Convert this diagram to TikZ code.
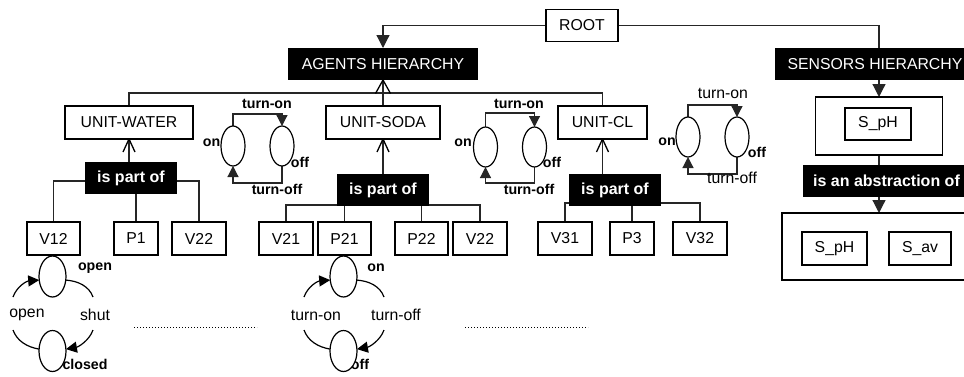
\documentclass[tikz,border=0pt]{standalone}
\usepackage{fontspec}
\setmainfont{Liberation Sans}
\usetikzlibrary{arrows.meta,shapes.geometric}
\pgfdeclarelayer{bg}
\pgfsetlayers{bg,main}
\begin{document}
\begin{tikzpicture}[x=1pt,y=-1pt,
  every node/.style={inner sep=0pt, outer sep=0pt},
  lbl/.style={font=\fontsize{15.8}{18}\selectfont},
  blbl/.style={font=\fontsize{14.2}{16}\selectfont\bfseries},
  box/.style={draw, line width=1.2pt, fill=white, minimum height=33pt, font=\fontsize{15.8}{18}\selectfont},
  blk/.style={fill=black, text=white, minimum height=32pt, font=\fontsize{16}{18}\selectfont\bfseries},
  blkr/.style={fill=black, text=white, minimum height=32pt, font=\fontsize{15.8}{18}\selectfont},
  st/.style={ellipse, draw, line width=1.2pt, fill=white, minimum width=24pt, minimum height=40pt},
  cst/.style={ellipse, draw, line width=1.2pt, fill=white, minimum width=27pt, minimum height=41pt},
  conn/.style={line width=1.2pt, draw=black!85},
  vee/.style={line width=1.3pt, draw=black, line join=miter},
  tri/.style={-{Triangle[length=13pt,width=13pt]}},
  stri/.style={-{Triangle[length=11pt,width=11pt]}},
]
\clip (0,0) rectangle (964,376);

% ---------- upper hierarchy ----------
\node[box, minimum width=72pt, minimum height=32pt] (root) at (582,25.5) {ROOT};
\node[blkr, minimum width=190pt] (agents) at (383,64) {AGENTS HIERARCHY};
\node[blkr, minimum width=200pt] (sensors) at (875,64) {SENSORS HIERARCHY};

\node[box, minimum width=128pt] (uw) at (129,122.5) {UNIT-WATER};
\node[box, minimum width=114pt] (us) at (383,122.5) {UNIT-SODA};
\node[box, minimum width=89pt] (uc) at (602.5,122.5) {UNIT-CL};

\node[blk, minimum width=92pt] (pw) at (131,178) {is part of};
\node[blk, minimum width=92pt] (ps) at (383,190) {is part of};
\node[blk, minimum width=92pt] (pc) at (615,190) {is part of};

% ---------- components ----------
\node[box, minimum width=53pt] (v12) at (53.5,238.5) {V12};
\node[box, minimum width=44pt] (p1) at (136,238.5) {P1};
\node[box, minimum width=54pt] (v22a) at (199,238.5) {V22};
\node[box, minimum width=54pt] (v21) at (286,238.5) {V21};
\node[box, minimum width=53pt] (p21) at (344.5,238.5) {P21};
\node[box, minimum width=53pt] (p22) at (421.5,238.5) {P22};
\node[box, minimum width=54pt] (v22b) at (480,238.5) {V22};
\node[box, minimum width=54pt] (v31) at (565,238.5) {V31};
\node[box, minimum width=44pt] (p3) at (632,238.5) {P3};
\node[box, minimum width=54pt] (v32) at (700,238.5) {V32};

% ---------- sensors ----------
\node[draw, line width=1.2pt, fill=white, minimum width=127pt, minimum height=58pt] (o1) at (879,126) {};
\node[box, minimum width=66pt, minimum height=32pt] (sph1) at (878,124) {S\_pH};
\node[blk, minimum width=167pt] (ab) at (886.5,181) {is an abstraction of};
\node[draw, line width=1.2pt, fill=white, minimum width=200pt, minimum height=67pt] (o2) at (882,246.5) {};
\node[box, minimum width=65pt] (sph2) at (834.5,248.5) {S\_pH};
\node[box, minimum width=62pt] (sav) at (920,248.5) {S\_av};

% ---------- small state machines ----------
\node[blbl] at (267,104) {turn-on};
\node[blbl] at (211.5,143) {on};
\node[blbl] at (300,162) {off};
\node[blbl] at (277,189) {turn-off};
\node[st] (l1) at (233,146) {};
\node[st] (r1) at (282,146) {};

\node[blbl] at (519,104) {turn-on};
\node[blbl] at (463,143) {on};
\node[blbl] at (552,162) {off};
\node[blbl] at (529,189) {turn-off};
\node[st] (l2) at (485.5,147) {};
\node[st] (r2) at (534.5,147) {};

\node[lbl] at (723,93) {turn-on};
\node[blbl] at (667,142) {on};
\node[blbl] at (757,152) {off};
\node[lbl] at (732,178) {turn-off};
\node[st] (l3) at (688,137) {};
\node[st] (r3) at (737,137) {};

% ---------- cycles ----------
\node[lbl] at (27,315) {open};
\node[lbl] at (95,315) {shut};
\node[blbl] at (95,268) {open};
\node[blbl] at (85,364) {closed};
\node[cst] (ta) at (52.5,276.5) {};
\node[cst] (tb) at (52.5,351) {};

\node[lbl] at (316,315) {turn-on};
\node[lbl] at (396,315) {turn-off};
\node[blbl] at (376,268) {on};
\node[blbl] at (360,364) {off};
\node[cst] (tc) at (343.5,276.5) {};
\node[cst] (td) at (343.5,351) {};

% coordinates
\coordinate (busA) at (383,93);
\coordinate (busW) at (130,181);
\coordinate (busS) at (383,205);
\coordinate (busC) at (632,203);
\coordinate (t1) at (257,114);
\coordinate (b1) at (257,183);
\coordinate (t2) at (510,113);
\coordinate (b2) at (510,183);
\coordinate (t3) at (712,105);
\coordinate (b3) at (712,174);
\coordinate (c1a) at (13,297);
\coordinate (c1b) at (93,297);
\coordinate (c1c) at (13,330);
\coordinate (c1d) at (93,330);
\coordinate (c2a) at (304,297);
\coordinate (c2b) at (384,297);
\coordinate (c2c) at (304,330);
\coordinate (c2d) at (384,330);
\coordinate (d1a) at (134,327);
\coordinate (d1b) at (257,327);
\coordinate (d2a) at (465,327);
\coordinate (d2b) at (588,327);

\begin{pgfonlayer}{bg}
% hierarchy
\draw[conn, tri] (root.west) -| (agents.north);
\draw[conn] (root.east) -| ([xshift=4pt]sensors.north);
\draw[conn] (uw.north) |- (busA) -| (uc.north);
\draw[conn] (us.north) -- (agents.south);
\draw[conn] (pw.north -| uw.south) -- (uw.south);
\draw[conn] (ps.north) -- (us.south);
\draw[conn] (pc.north -| uc.south) -- (uc.south);
% open arrowheads
\draw[vee] ([shift={(-7.5,13.5)}]agents.south) -- (agents.south) -- ([shift={(7.5,13.5)}]agents.south);
\draw[vee] ([shift={(-6,13)}]uw.south) -- (uw.south) -- ([shift={(6,13)}]uw.south);
\draw[vee] ([shift={(-6,13)}]us.south) -- (us.south) -- ([shift={(6,13)}]us.south);
\draw[vee] ([shift={(-6,13)}]uc.south) -- (uc.south) -- ([shift={(6,13)}]uc.south);
\draw[conn] (v12.north) |- (busW) -| (v22a.north);
\draw[conn] (p1.north) -- (p1.north |- busW);
\draw[conn] (v21.north) |- (busS) -| (v22b.north);
\draw[conn] (p21.north) -- (p21.north |- busS);
\draw[conn] (p22.north) -- (p22.north |- busS);
\draw[conn] (v31.north) |- (busC) -| (v32.north);
\draw[conn] (p3.north) -- (p3.north |- busC);
% sensors
\draw[conn, tri] ([xshift=4pt]sensors.south) -- (o1.north);
\draw[conn] (o1.south) -- (o1.south |- ab.north);
\draw[conn, tri] (o1.south |- ab.south) -- (o1.south |- o2.north);
% state machines
\draw[conn, stri] (l1.north) |- (t1) -| (r1.north);
\draw[conn, stri] (r1.south) |- (b1) -| (l1.south);
\draw[conn, stri] (l2.north) |- (t2) -| (r2.north);
\draw[conn, stri] (r2.south) |- (b2) -| (l2.south);
\draw[conn, stri] (l3.north) |- (t3) -| (r3.north);
\draw[conn, stri] (r3.south) |- (b3) -| (l3.south);
% cycles
\draw[line width=1.2pt, stri] (c1a) .. controls (17,286) and (27,281) .. (ta.195);
\draw[line width=1.2pt] (ta.-15) .. controls (78,281) and (89,286) .. (c1b);
\draw[line width=1.2pt] (c1c) .. controls (17,341) and (27,347) .. (tb.172);
\draw[line width=1.2pt, stri] (c1d) .. controls (89,341) and (78,347) .. (tb.8);
\draw[line width=1.2pt, stri] (c2a) .. controls (308,286) and (318,281) .. (tc.195);
\draw[line width=1.2pt] (tc.-15) .. controls (369,281) and (380,286) .. (c2b);
\draw[line width=1.2pt] (c2c) .. controls (308,341) and (318,347) .. (td.172);
\draw[line width=1.2pt, stri] (c2d) .. controls (380,341) and (369,347) .. (td.8);
% dotted
\draw[line width=1pt, dash pattern=on 1pt off 2pt] (d1a) -- (d1b);
\draw[line width=1pt, dash pattern=on 1pt off 2pt] (d2a) -- (d2b);
\end{pgfonlayer}
\end{tikzpicture}
\end{document}
